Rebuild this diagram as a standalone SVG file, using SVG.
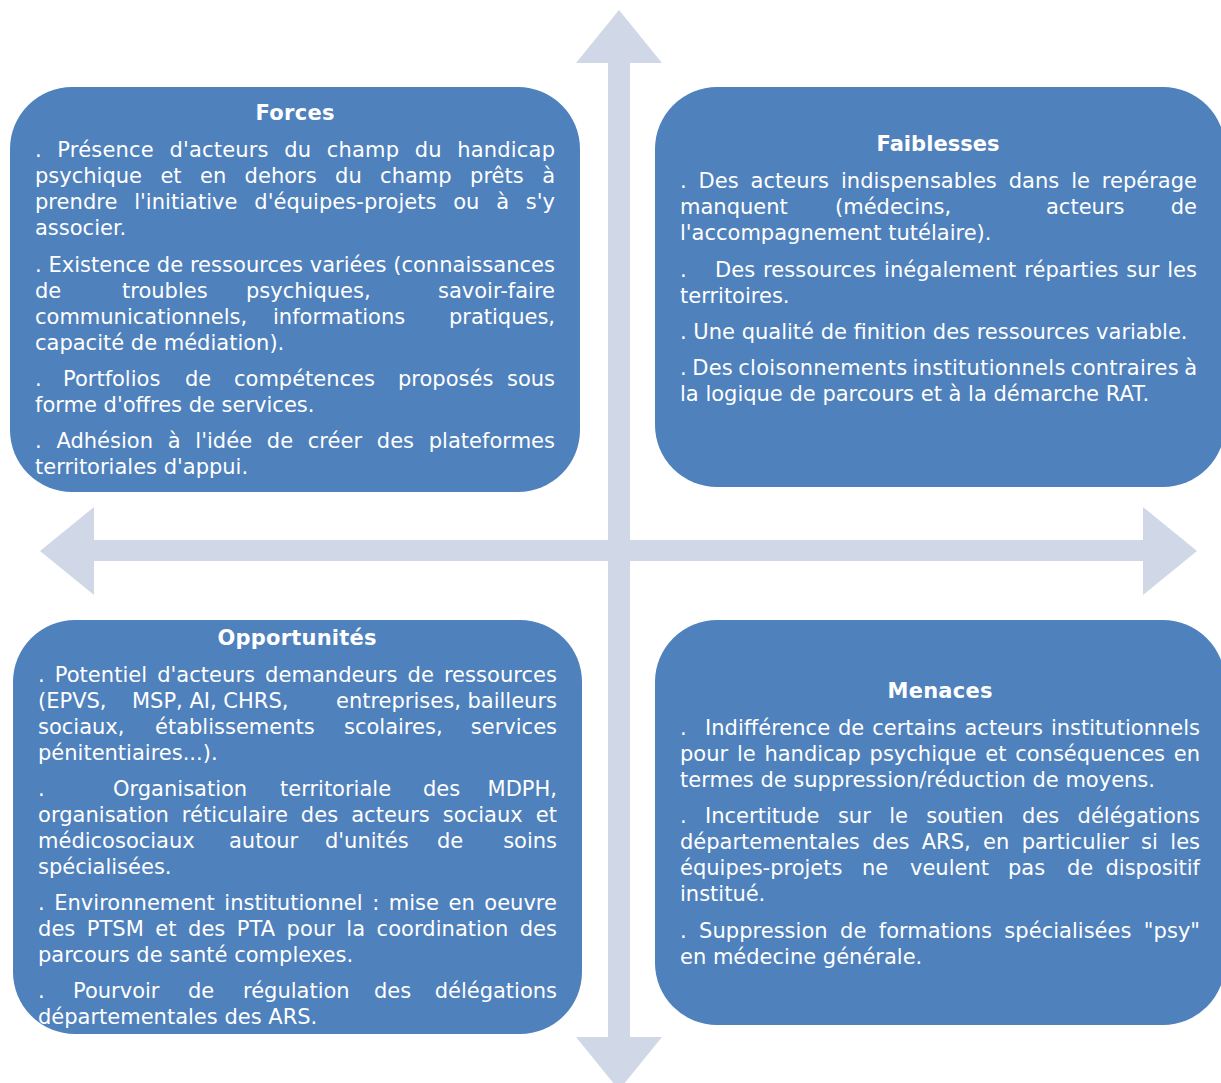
<svg xmlns="http://www.w3.org/2000/svg" width="1221" height="1083" viewBox="0 0 1221 1083">
<style>
.box{fill:#4F81BD;}
.ax{fill:#D0D8E8;}
text{font-family:'DejaVu Sans','Verdana',sans-serif;font-size:21px;fill:#FFFFFF;}
.h{font-weight:bold;text-anchor:middle;}
.r{text-anchor:end;}
</style>
<rect width="1221" height="1083" fill="#FFFFFF"/>
<g id="connectors">
<polygon class="ax" points="619,10 662,63 630,63 630,1037 662,1037 619,1090 576,1037 608,1037 608,63 576,63"/>
<polygon class="ax" points="40,551 94,507 94,540 1143,540 1143,507 1197,551 1143,595 1143,561 94,561 94,595"/>
</g>
<g id="forces">
<rect class="box" x="10" y="87" width="570" height="405" rx="62"/>
<text class="h" x="295" y="120" textLength="79">Forces</text>
<text x="35" y="157" textLength="520" word-spacing="8.6">. Présence d'acteurs du champ du handicap</text>
<text x="35" y="183" textLength="520" word-spacing="11.7">psychique et en dehors du champ prêts à</text>
<text x="35" y="209" textLength="520" word-spacing="10">prendre l'initiative d'équipes-projets ou à s'y</text>
<text x="35" y="235">associer.</text>
<text x="35" y="272" textLength="520">. Existence de ressources variées (connaissances</text>
<text y="298"><tspan x="35">de</tspan><tspan x="122">troubles</tspan><tspan x="246">psychiques,</tspan></text>
<text class="r" x="555" y="298">savoir-faire</text>
<text y="324"><tspan x="35">communicationnels,</tspan><tspan x="273">informations</tspan></text>
<text class="r" x="555" y="324">pratiques,</text>
<text x="35" y="350">capacité de médiation).</text>
<text y="386"><tspan x="35">.</tspan><tspan x="63">Portfolios</tspan><tspan x="185">de</tspan><tspan x="234">compétences</tspan><tspan x="398">proposés</tspan></text>
<text class="r" x="555" y="386">sous</text>
<text x="35" y="412">forme d'offres de services.</text>
<text x="35" y="448" textLength="520" word-spacing="8">. Adhésion à l'idée de créer des plateformes</text>
<text x="35" y="474">territoriales d'appui.</text>
</g>
<g id="faiblesses">
<rect class="box" x="655" y="87" width="570" height="400" rx="62"/>
<text class="h" x="938" y="151" textLength="123">Faiblesses</text>
<text x="680" y="188" textLength="517" word-spacing="5.2">. Des acteurs indispensables dans le repérage</text>
<text y="214"><tspan x="680">manquent</tspan><tspan x="835">(médecins,</tspan><tspan x="1046">acteurs</tspan></text>
<text class="r" x="1197" y="214">de</text>
<text x="680" y="240">l'accompagnement tutélaire).</text>
<text y="277"><tspan x="680">.</tspan><tspan x="715" textLength="482" word-spacing="1.2">Des ressources inégalement réparties sur les</tspan></text>
<text x="680" y="303">territoires.</text>
<text x="680" y="339">. Une qualité de finition des ressources variable.</text>
<text x="680" y="375" textLength="517" word-spacing="-1.7">. Des cloisonnements institutionnels contraires à</text>
<text x="680" y="401">la logique de parcours et à la démarche RAT.</text>
</g>
<g id="opportunites">
<rect class="box" x="13" y="620" width="569" height="414" rx="62"/>
<text class="h" x="297" y="645" textLength="159">Opportunités</text>
<text x="38" y="682" textLength="519" word-spacing="3.3">. Potentiel d'acteurs demandeurs de ressources</text>
<text y="708"><tspan x="38">(EPVS,</tspan><tspan x="132">MSP, AI, CHRS,</tspan></text>
<text class="r" x="557" y="708">entreprises, bailleurs</text>
<text y="734"><tspan x="38">sociaux,</tspan><tspan x="155">établissements</tspan><tspan x="344">scolaires,</tspan></text>
<text class="r" x="557" y="734">services</text>
<text x="38" y="760">pénitentiaires...).</text>
<text y="796"><tspan x="38">.</tspan><tspan x="113">Organisation</tspan><tspan x="280">territoriale</tspan><tspan x="423">des</tspan></text>
<text class="r" x="557" y="796">MDPH,</text>
<text x="38" y="822" textLength="519" word-spacing="6.3">organisation réticulaire des acteurs sociaux et</text>
<text y="848"><tspan x="38">médicosociaux</tspan><tspan x="229">autour</tspan><tspan x="325">d'unités</tspan><tspan x="437">de</tspan></text>
<text class="r" x="557" y="848">soins</text>
<text x="38" y="874">spécialisées.</text>
<text x="38" y="910" textLength="519" word-spacing="2.8">. Environnement institutionnel : mise en oeuvre</text>
<text x="38" y="936" textLength="519" word-spacing="4.7">des PTSM et des PTA pour la coordination des</text>
<text x="38" y="962">parcours de santé complexes.</text>
<text y="998"><tspan x="38">.</tspan><tspan x="73">Pourvoir</tspan><tspan x="188">de</tspan><tspan x="243">régulation</tspan><tspan x="374">des</tspan></text>
<text class="r" x="557" y="998">délégations</text>
<text x="38" y="1024">départementales des ARS.</text>
</g>
<g id="menaces">
<rect class="box" x="655" y="620" width="570" height="405" rx="62"/>
<text class="h" x="940" y="698" textLength="105">Menaces</text>
<text y="735"><tspan x="680">.</tspan><tspan x="705" textLength="495" word-spacing="1.2">Indifférence de certains acteurs institutionnels</tspan></text>
<text x="680" y="761" textLength="520" word-spacing="2.1">pour le handicap psychique et conséquences en</text>
<text x="680" y="787">termes de suppression/réduction de moyens.</text>
<text x="680" y="823" textLength="520" word-spacing="11.7">. Incertitude sur le soutien des délégations</text>
<text x="680" y="849" textLength="520" word-spacing="5.7">départementales des ARS, en particulier si les</text>
<text y="875"><tspan x="680">équipes-projets</tspan><tspan x="862">ne</tspan><tspan x="910">veulent</tspan><tspan x="1008">pas</tspan><tspan x="1067">de</tspan></text>
<text class="r" x="1200" y="875">dispositif</text>
<text x="680" y="901">institué.</text>
<text x="680" y="938" textLength="520" word-spacing="5.7">. Suppression de formations spécialisées "psy"</text>
<text x="680" y="964">en médecine générale.</text>
</g>
</svg>
